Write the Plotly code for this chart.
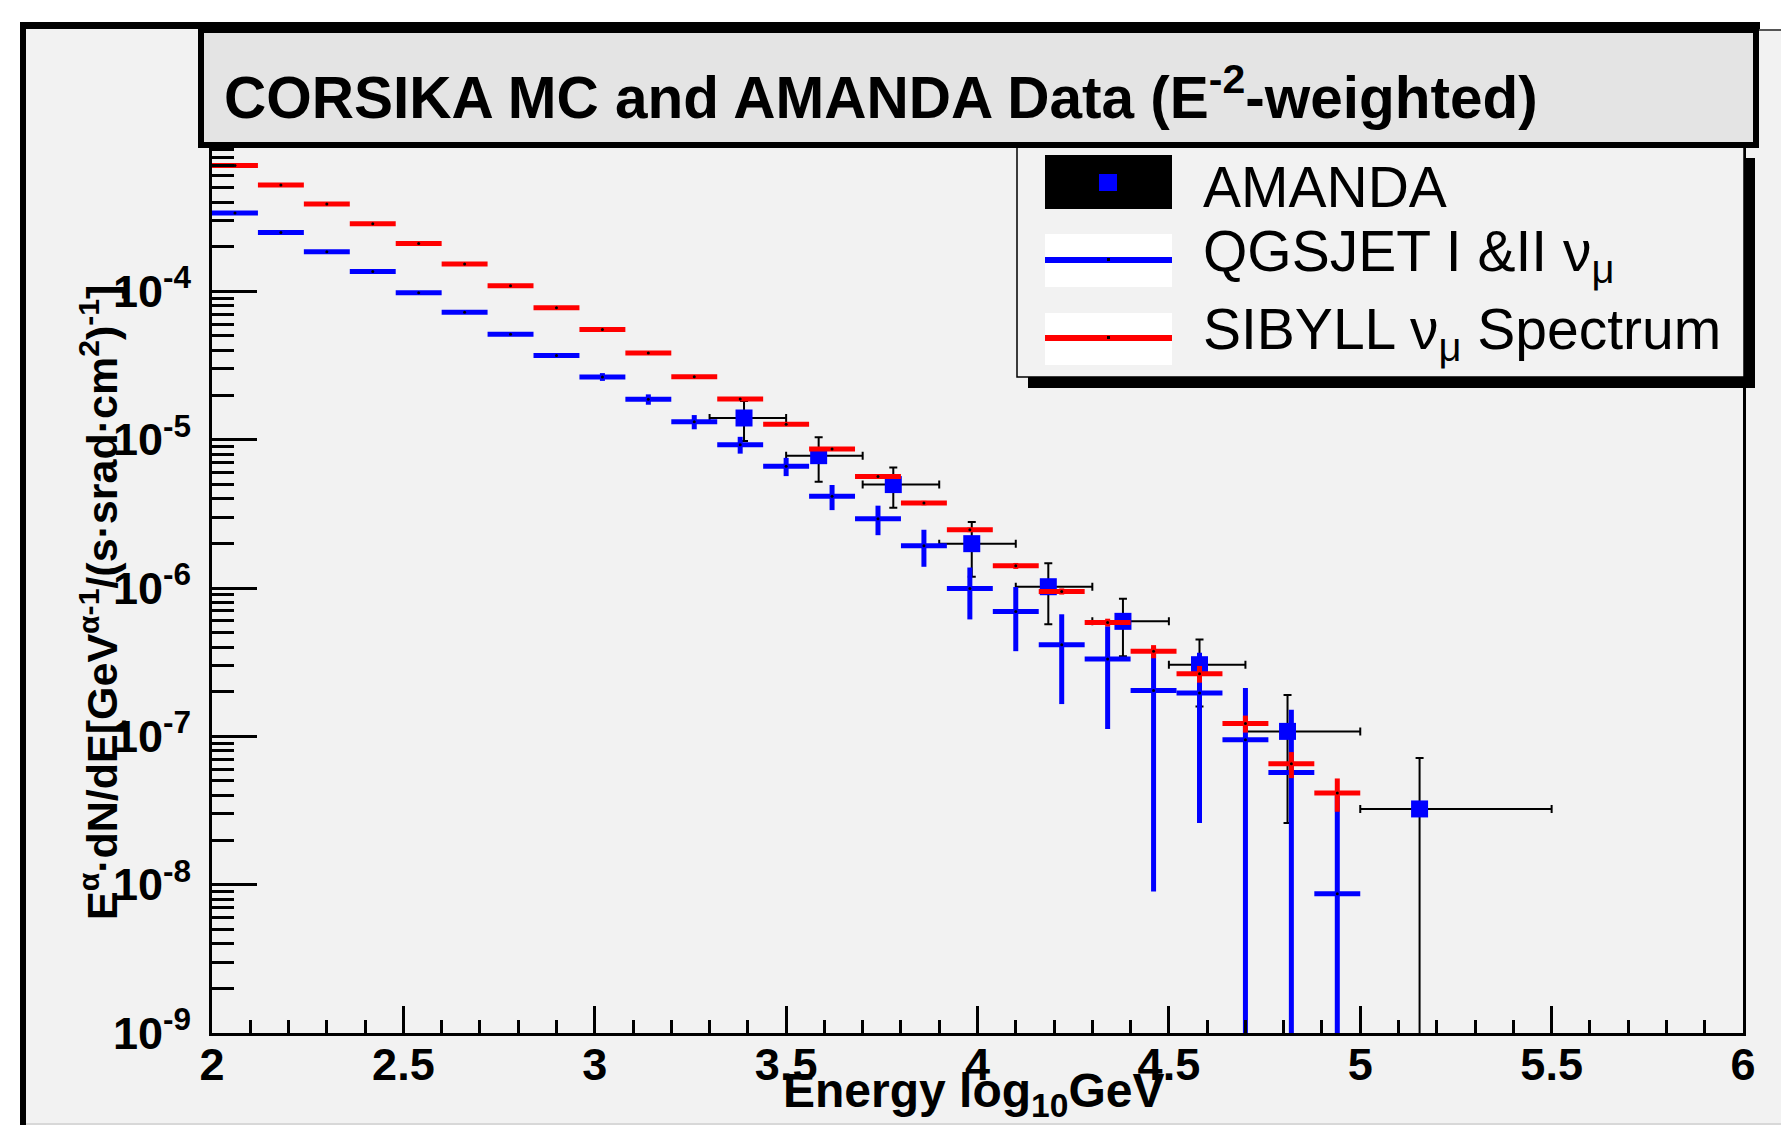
import plotly.graph_objects as go

# ---------------- data ----------------
E_BINS = [2.06, 2.18, 2.30, 2.42, 2.54, 2.66, 2.78, 2.90, 3.02, 3.14, 3.26, 3.38, 3.50,
          3.62, 3.74, 3.86, 3.98, 4.10, 4.22, 4.34, 4.46, 4.58, 4.70, 4.82, 4.94]
BIN_HALF_WIDTH = 0.06

QGSJET_FLUX = [3.38e-4, 2.49e-4, 1.85e-4, 1.36e-4, 9.80e-5, 7.22e-5, 5.13e-5, 3.70e-5,
               2.65e-5, 1.87e-5, 1.32e-5, 9.25e-6, 6.61e-6, 4.15e-6, 2.93e-6, 1.93e-6,
               9.94e-7, 6.95e-7, 4.15e-7, 3.32e-7, 2.04e-7, 1.96e-7, 9.48e-8, 5.71e-8, 8.69e-9]
QGSJET_ERR = [3.0e-6, 2.5e-6, 2.2e-6, 1.9e-6, 1.6e-6, 1.4e-6, 1.2e-6, 1.0e-6,
              1.6e-6, 1.5e-6, 1.45e-6, 1.2e-6, 0.93e-6, 0.8e-6, 0.66e-6, 0.54e-6,
              3.8e-7, 3.2e-7, 2.5e-7, 2.2e-7, 1.95e-7, 1.7e-7, 1.17e-7, 9.4e-8, 3.1e-8]

SIBYLL_FLUX = [7.04e-4, 5.22e-4, 3.88e-4, 2.86e-4, 2.10e-4, 1.53e-4, 1.09e-4, 7.76e-5,
               5.54e-5, 3.84e-5, 2.66e-5, 1.88e-5, 1.27e-5, 8.65e-6, 5.65e-6, 3.74e-6,
               2.47e-6, 1.41e-6, 9.48e-7, 5.86e-7, 3.74e-7, 2.64e-7, 1.22e-7, 6.53e-8, 4.15e-8]
SIBYLL_ERR = [3.0e-6, 2.5e-6, 2.0e-6, 1.6e-6, 1.3e-6, 1.0e-6, 0.8e-6, 0.6e-6,
              0.5e-6, 0.4e-6, 0.33e-6, 0.28e-6, 0.25e-6, 0.22e-6, 0.17e-6, 0.13e-6,
              9.0e-8, 6.5e-8, 4.5e-8, 3.5e-8, 3.8e-8, 3.4e-8, 1.6e-8, 1.3e-8, 1.05e-8]

AMANDA_E = [3.39, 3.585, 3.78, 3.985, 4.185, 4.38, 4.58, 4.81, 5.155]
AMANDA_E_LOW = [3.30, 3.50, 3.70, 3.90, 4.10, 4.30, 4.50, 4.70, 5.00]
AMANDA_E_HIGH = [3.50, 3.70, 3.90, 4.10, 4.30, 4.50, 4.70, 5.00, 5.50]
AMANDA_FLUX = [1.40e-5, 7.80e-6, 4.98e-6, 1.99e-6, 1.02e-6, 5.96e-7, 3.04e-7, 1.08e-7, 3.24e-8]
AMANDA_ERR = [4.2e-6, 2.6e-6, 1.5e-6, 0.8e-6, 0.45e-6, 2.5e-7, 1.45e-7, 8.2e-8, 3.9e-8]

X_TICKS = [2, 2.5, 3, 3.5, 4, 4.5, 5, 5.5, 6]
X_TICK_LABELS = ["2", "2.5", "3", "3.5", "4", "4.5", "5", "5.5", "6"]
Y_TICKS = [1e-9, 1e-8, 1e-7, 1e-6, 1e-5, 1e-4]
Y_TICK_LABELS = ["10<sup>-9</sup>", "10<sup>-8</sup>", "10<sup>-7</sup>",
                 "10<sup>-6</sup>", "10<sup>-5</sup>", "10<sup>-4</sup>"]
Y_MINOR = [m * d for d in [1e-9, 1e-8, 1e-7, 1e-6, 1e-5, 1e-4] for m in range(2, 10)]

TITLE = "CORSIKA MC and AMANDA Data (E<sup>-2</sup>-weighted)"
X_TITLE = "Energy log<sub>10</sub>GeV"
Y_TITLE = "E<sup>α</sup>·dN/dE[GeV<sup>α-1</sup>/(s·srad·cm<sup>2</sup>)<sup>-1</sup>]"
LEGEND_LABELS = ["AMANDA", "QGSJET I &amp;II ν<sub>μ</sub>", "SIBYLL ν<sub>μ</sub> Spectrum"]

# ---------------- geometry ----------------
W, H = 1781, 1125
L, T, PW, PH = 212, 143, 1531, 890
FONT = "Liberation Sans"


def PX(x):
    return (x - L) / PW


def PY(y):
    return (T + PH - y) / PH


fig = go.Figure()

fig.add_trace(go.Scatter(
    x=AMANDA_E, y=AMANDA_FLUX, mode="markers", name="AMANDA",
    marker=dict(symbol="square", size=17, color="#0000ff", line=dict(width=0)),
    error_x=dict(type="data", symmetric=False,
                 array=[h - x for h, x in zip(AMANDA_E_HIGH, AMANDA_E)],
                 arrayminus=[x - l for l, x in zip(AMANDA_E_LOW, AMANDA_E)],
                 color="black", thickness=2, width=4),
    error_y=dict(type="data", array=AMANDA_ERR, color="black", thickness=2, width=4),
    showlegend=False))

for flux, err, col, name in [(QGSJET_FLUX, QGSJET_ERR, "#0000ff", "QGSJET"),
                             (SIBYLL_FLUX, SIBYLL_ERR, "#ff0000", "SIBYLL")]:
    fig.add_trace(go.Scatter(
        x=E_BINS, y=flux, mode="markers", name=name,
        marker=dict(symbol="circle", size=3, color="black", line=dict(width=0)),
        error_x=dict(type="constant", value=BIN_HALF_WIDTH, color=col, thickness=5, width=0),
        error_y=dict(type="data", array=err, color=col, thickness=5, width=0),
        showlegend=False))

shapes = []


def rect(x0, y0, x1, y1, fill, lc=None, lw=0, layer="above"):
    shapes.append(dict(type="rect", xref="paper", yref="paper",
                       x0=PX(x0), x1=PX(x1), y0=PY(y1), y1=PY(y0),
                       fillcolor=fill, line=dict(color=lc or fill, width=lw),
                       layer=layer))


# canvas frame
rect(0, 0, W, 29, "white", layer="below")
rect(0, 0, 20, H, "white", layer="below")
rect(20, 22, 1760, 29, "black")
rect(1758, 29, W, 31, "#555555")
rect(20, 22, 26, H, "black")
rect(26, H - 2, W, H, "#d8d8d8")
# legend (shadow + box)
rect(1028, 158, 1755, 388, "black")
rect(1017, 140, 1744, 377, "#f2f2f2", "black", 1.5)
# title box
rect(201, 30, 1756, 145, "#e4e4e4", "black", 6)
# legend symbols
rect(1045, 155, 1172, 209, "black")
rect(1099, 174, 1117, 191, "#0000ff")
rect(1045, 234, 1172, 287, "white")
rect(1045, 257, 1172, 263, "#0000ff")
rect(1107, 258, 1110, 261, "black")
rect(1045, 313, 1172, 365, "white")
rect(1045, 335, 1172, 341, "#ff0000")
rect(1107, 336, 1110, 339, "black")

annotations = [
    dict(text="<b>" + TITLE + "</b>", x=PX(222), y=PY(93), xanchor="left", yanchor="middle",
         font=dict(family=FONT, size=58.5, color="black")),
    dict(text="<b>" + X_TITLE + "</b>", x=PX(973), y=PY(1094), xanchor="center", yanchor="middle",
         font=dict(family=FONT, size=48, color="black")),
    dict(text="<b>" + Y_TITLE + "</b>", x=PX(99), y=PY(603), xanchor="center", yanchor="middle",
         textangle=-90, font=dict(family=FONT, size=43, color="black")),
]
for lab, yc in zip(LEGEND_LABELS, [187, 255, 333]):
    annotations.append(dict(text=lab, x=PX(1201), y=PY(yc), xanchor="left", yanchor="middle",
                            font=dict(family=FONT, size=57, color="black")))
for a in annotations:
    a.update(xref="paper", yref="paper", showarrow=False)

fig.update_layout(
    width=W, height=H, autosize=False,
    margin=dict(l=L, r=W - L - PW, t=T, b=H - T - PH, pad=0),
    paper_bgcolor="#f2f2f2", plot_bgcolor="#f2f2f2",
    font=dict(family=FONT, color="black"),
    shapes=shapes, annotations=annotations,
    xaxis=dict(range=[2, 6], tickmode="array", tickvals=X_TICKS, ticktext=X_TICK_LABELS,
               ticks="inside", ticklen=27, tickwidth=2.5, tickcolor="black",
               minor=dict(tickmode="linear", tick0=2, dtick=0.1, ticks="inside", ticklen=13,
                          tickwidth=2.5, tickcolor="black", showgrid=False),
               showline=True, linewidth=3, linecolor="black", mirror=True,
               showgrid=False, zeroline=False, ticklabelstandoff=-10,
               tickfont=dict(family=FONT, size=45, color="black", weight="bold")),
    yaxis=dict(type="log", range=[-9, -3], tickmode="array", tickvals=Y_TICKS,
               ticktext=Y_TICK_LABELS, ticks="inside", ticklen=45, tickwidth=2.5,
               tickcolor="black",
               minor=dict(tickmode="array", tickvals=Y_MINOR, ticks="inside", ticklen=22,
                          tickwidth=2.5, tickcolor="black", showgrid=False),
               showline=True, linewidth=3, linecolor="black", mirror=True,
               showgrid=False, zeroline=False, ticklabelstandoff=9,
               tickfont=dict(family=FONT, size=45, color="black", weight="bold")),
)

fig.write_html("out.html", config={"displayModeBar": False},
               post_script="document.body.style.margin='0px';document.body.style.overflow='hidden';")
